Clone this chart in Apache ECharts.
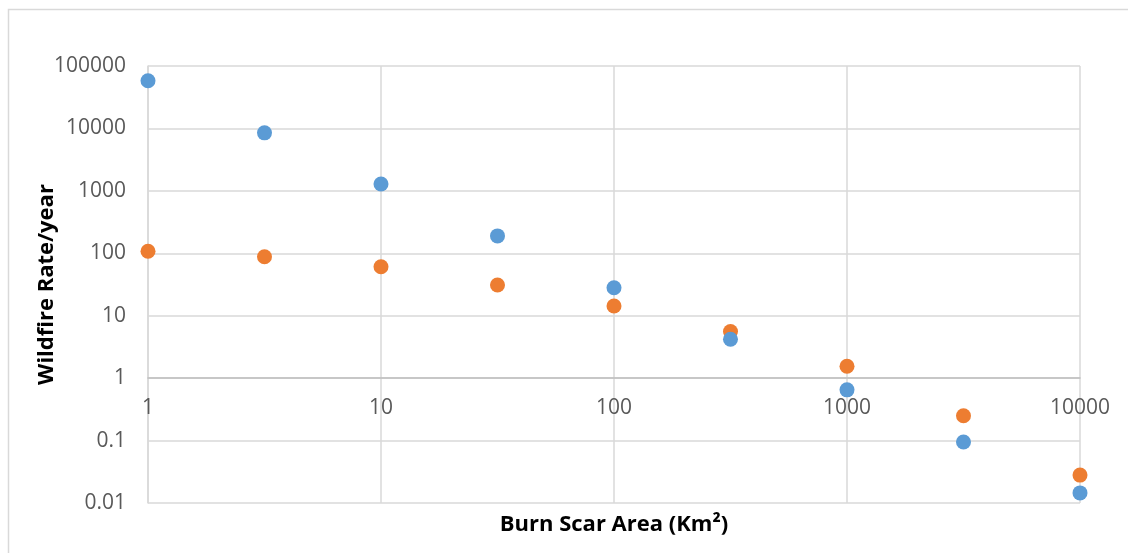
<!DOCTYPE html>
<html>
<head>
<meta charset="utf-8">
<script src="https://cdn.jsdelivr.net/npm/echarts@6/dist/echarts.min.js"></script>
<style>
html,body{margin:0;padding:0;background:#fff;}
#chart{width:1128px;height:553px;}
</style>
</head>
<body>
<div id="chart"></div>
<script>
const burnArea = [1, 3.162, 10, 31.62, 100, 316.2, 1000, 3162, 10000];
const seriesBlue = [58000, 8500, 1290, 190, 28, 4.2, 0.65, 0.095, 0.0145];
const seriesOrange = [108, 88, 61, 31, 14.3, 5.6, 1.55, 0.25, 0.028];
const xTickLabels = ['1', '10', '100', '1000', '10000'];
const yTickLabels = ['0.01', '0.1', '1', '10', '100', '1000', '10000', '100000'];
const xTitle = 'Burn Scar Area (Km\u00B2)';
const yTitle = 'Wildfire Rate/year';

function pairs(xs, ys) { return xs.map((x, i) => [x, ys[i]]); }
function labelFor(list, v) {
  const i = Math.round(Math.log10(v)) - Math.round(Math.log10(Number(list[0])));
  return list[i] !== undefined ? list[i] : String(v);
}

const chart = echarts.init(document.getElementById('chart'), null, {renderer: 'canvas'});
const font = "'Open Sans', 'Liberation Sans', sans-serif";
chart.setOption({
  animation: false,
  backgroundColor: '#ffffff',
  graphic: [{
    type: 'rect', left: 6, top: 7, z: -1,
    shape: {width: 1200, height: 600},
    style: {fill: 'none', stroke: '#d9d9d9', lineWidth: 1.5}
  }],
  grid: {left: 148, right: 48, top: 66, bottom: 50},
  xAxis: {
    type: 'log', logBase: 10, min: 1, max: 10000,
    position: 'bottom', offset: -125,
    axisLine: {show: true, lineStyle: {color: '#bfbfbf', width: 1.5}},
    axisTick: {show: false},
    splitLine: {show: true, lineStyle: {color: '#d9d9d9', width: 1.5}},
    axisLabel: {
      margin: 20, color: '#595959', fontSize: 21, fontFamily: font,
      formatter: v => labelFor(xTickLabels, v)
    },
    name: xTitle, nameLocation: 'middle', nameGap: 136, nameMoveOverlap: false,
    nameTextStyle: {color: '#000', fontSize: 22, fontWeight: 'bold', fontFamily: font}
  },
  yAxis: {
    type: 'log', logBase: 10, min: 0.01, max: 100000,
    axisLine: {show: true, lineStyle: {color: '#d9d9d9', width: 1.5}},
    axisTick: {show: false},
    splitLine: {show: true, lineStyle: {color: '#d9d9d9', width: 1.5}},
    axisLabel: {
      margin: 22, color: '#595959', fontSize: 21, fontFamily: font,
      formatter: v => labelFor(yTickLabels, v)
    },
    name: yTitle, nameLocation: 'middle', nameGap: 90, nameRotate: 90, nameMoveOverlap: false,
    nameTextStyle: {color: '#000', fontSize: 22, fontWeight: 'bold', fontFamily: font}
  },
  series: [
    {type: 'scatter', name: 'Series1', data: pairs(burnArea, seriesBlue),
     symbolSize: 15, itemStyle: {color: '#5b9bd5', opacity: 1}, z: 3},
    {type: 'scatter', name: 'Series2', data: pairs(burnArea, seriesOrange),
     symbolSize: 15, itemStyle: {color: '#ed7d31', opacity: 1}, z: 2}
  ]
});
</script>
</body>
</html>
